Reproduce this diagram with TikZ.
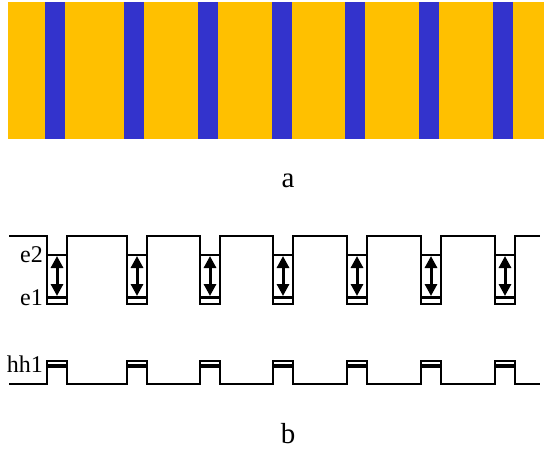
\documentclass[tikz,border=0pt]{standalone}
\usepackage{fontspec}
\setmainfont{Liberation Serif}
\usetikzlibrary{arrows.meta}
\definecolor{layerA}{RGB}{255,192,0}
\definecolor{layerB}{RGB}{51,51,204}
\begin{document}
\begin{tikzpicture}[x=1pt,y=-1pt]
    \tikzset{band/.style = {line width=2pt, line join=miter}}
    \tikzset{level/.style = {line width=3.2pt}}
    \tikzset{trans/.style = {line width=3pt, {Triangle[length=12pt,width=12pt]}-{Triangle[length=12pt,width=12pt]}}}
    \tikzset{lbl/.style = {anchor=base east, inner sep=0pt, font=\fontsize{24}{28}\selectfont}}
    \tikzset{panel/.style = {anchor=base, inner sep=0pt, font=\fontsize{29}{34}\selectfont}}
    \useasboundingbox (0,0) rectangle (544,450);
    % panel a: layered structure
    \fill[layerA] (8,2) rectangle (544,139);
    \foreach \x in {45,124,198,272,345,419,493}
        \fill[layerB] (\x,2) rectangle (\x+19.5,139);
    \node[panel] (a) at (288,187) {a};
    % panel b: conduction band with wells
    \draw[band] (9,236) \foreach \x in {47,127,200,273,347,421,495}
        { -- (\x,236) -- (\x,304) -- (\x+20,304) -- (\x+20,236) } -- (540,236);
    \foreach \x [count=\i] in {47,127,200,273,347,421,495} {
        \draw[band] (\x,255) -- (\x+20,255);
        \draw[level] (\x,297.5) -- (\x+20,297.5);
        \coordinate (up\i) at (\x+10,256);
        \coordinate (dn\i) at (\x+10,296);
        \draw[trans] (up\i) -- (dn\i);
    }
    % valence band
    \draw[band] (9,384) \foreach \x in {47,127,200,273,347,421,495}
        { -- (\x,384) -- (\x,361) -- (\x+20,361) -- (\x+20,384) } -- (540,384);
    \foreach \x in {47,127,200,273,347,421,495}
        \draw[level] (\x,366) -- (\x+20,366);
    % level names
    \node[lbl] (e2) at (43,262) {e2};
    \node[lbl] (e1) at (43,305) {e1};
    \node[lbl] (hh1) at (43,372) {hh1};
    \node[panel] (b) at (288,443) {b};
\end{tikzpicture}
\end{document}
